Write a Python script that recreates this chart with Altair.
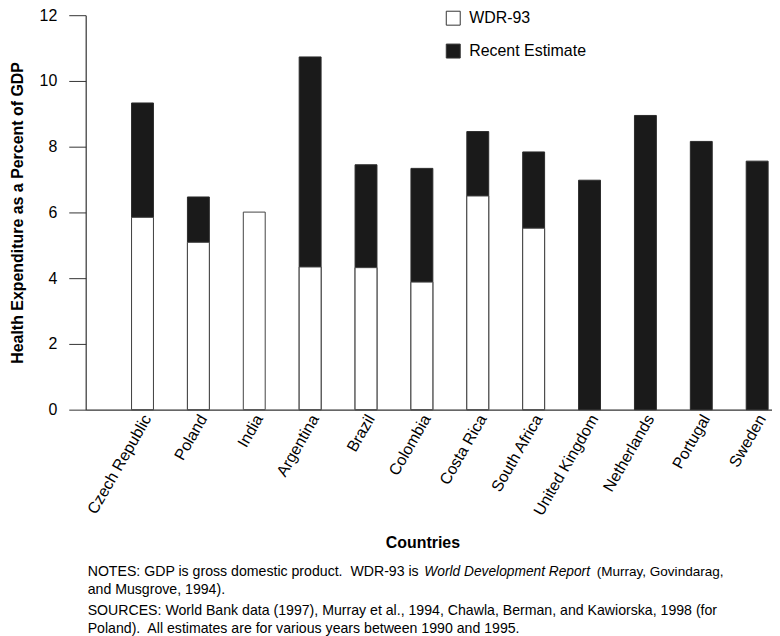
import altair as alt
import pandas as pd

countries = ["Czech Republic", "Poland", "India", "Argentina", "Brazil", "Colombia",
             "Costa Rica", "South Africa", "United Kingdom", "Netherlands", "Portugal", "Sweden"]
wdr93 = [5.85, 5.09, 6.01, 4.34, 4.32, 3.88, 6.50, 5.52, None, None, None, None]
recent = [9.33, 6.47, None, 10.73, 7.45, 7.34, 8.46, 7.84, 6.98, 8.95, 8.16, 7.56]
series_names = ["WDR-93", "Recent Estimate"]
y_ticks = [0, 2, 4, 6, 8, 10, 12]

rows = []
for c, w, r in zip(countries, wdr93, recent):
    if w is not None:
        rows.append({"country": c, "series": "WDR-93", "value": w})
    if r is not None:
        rows.append({"country": c, "series": "Recent Estimate", "value": r})
df = pd.DataFrame(rows)

FONT = "Liberation Sans"

x_enc = alt.X(
    "country:N", sort=countries,
    scale=alt.Scale(paddingInner=0.608, paddingOuter=0.445, align=0.922),
    axis=alt.Axis(
        title="Countries", labelAngle=-60, labelAlign="right", labelBaseline="middle",
        labelFontSize=16, labelFont=FONT, labelColor="black", labelPadding=6, labelOffset=5,
        ticks=False, tickSize=0, domainColor="#333", domainWidth=1.2,
        titleFont=FONT, titleFontSize=16, titleFontWeight="bold", titleColor="black",
        titleX=338, titleY=125, titleBaseline="top", titleAnchor="middle", titleAlign="center",
    ),
)
y_enc = alt.Y(
    "value:Q",
    scale=alt.Scale(domain=[0, 12], nice=False),
    axis=alt.Axis(
        title="Health Expenditure as a Percent of GDP", values=y_ticks, grid=False,
        tickSize=17, tickColor="#333", domainColor="#333", domainWidth=1.2,
        labelFontSize=16, labelFont=FONT, labelColor="black", labelPadding=12,
        titleFont=FONT, titleFontSize=16, titleFontWeight="bold", titleColor="black",
        titlePadding=14,
    ),
)
fill_enc = alt.Fill(
    "series:N",
    scale=alt.Scale(domain=series_names, range=["white", "#1a1a1a"]),
    legend=alt.Legend(
        title=None, orient="none", legendX=361, legendY=-5, padding=0,
        symbolType="square", symbolSize=196, symbolStrokeColor="#333", symbolStrokeWidth=1,
        labelFontSize=16, labelFont=FONT, labelColor="black", labelOffset=8,
        rowPadding=15, symbolOpacity=1,
    ),
)

base = alt.Chart(df)
black = base.transform_filter(alt.datum.series == "Recent Estimate").mark_bar(
    stroke="#2a2a2a", strokeWidth=1
).encode(x=x_enc, y=y_enc, fill=fill_enc)
white = base.transform_filter(alt.datum.series == "WDR-93").mark_bar(
    stroke="#444", strokeWidth=1
).encode(x=x_enc, y=y_enc, fill=fill_enc)

dummy = alt.Data(values=[{"k": 1}])
note_size = 14.2
NB = "\u00a0"


def note(text, x, y, italic=False, size=note_size):
    return alt.Chart(dummy).mark_text(
        text=text, align="left", baseline="alphabetic", font=FONT, fontSize=size,
        fontStyle="italic" if italic else "normal", color="black"
    ).encode(x=alt.value(x), y=alt.value(y))


notes = [
    note("NOTES: GDP is gross domestic product." + NB + " WDR-93 is", 2, 563),
    note("World Development Report", 340, 563, italic=True, size=13.8),
    note("(Murray, Govindarag,", 513, 563, size=13.6),
    note("and Musgrove, 1994).", 2, 581),
    note("SOURCES: World Bank data (1997), Murray et al., 1994, Chawla, Berman, and Kawiorska, 1998 (for", 2, 602),
    note("Poland)." + NB + " All estimates are for various years between 1990 and 1995.", 2, 620),
]

chart = alt.layer(black, white, *notes).properties(
    width=689, height=396,
    autosize=alt.AutoSizeParams(type="none"),
    padding={"left": 78, "top": 6, "right": 0, "bottom": 226},
).configure_view(stroke=None)

chart.save("out.html", embed_options={"renderer": "svg", "actions": False})
